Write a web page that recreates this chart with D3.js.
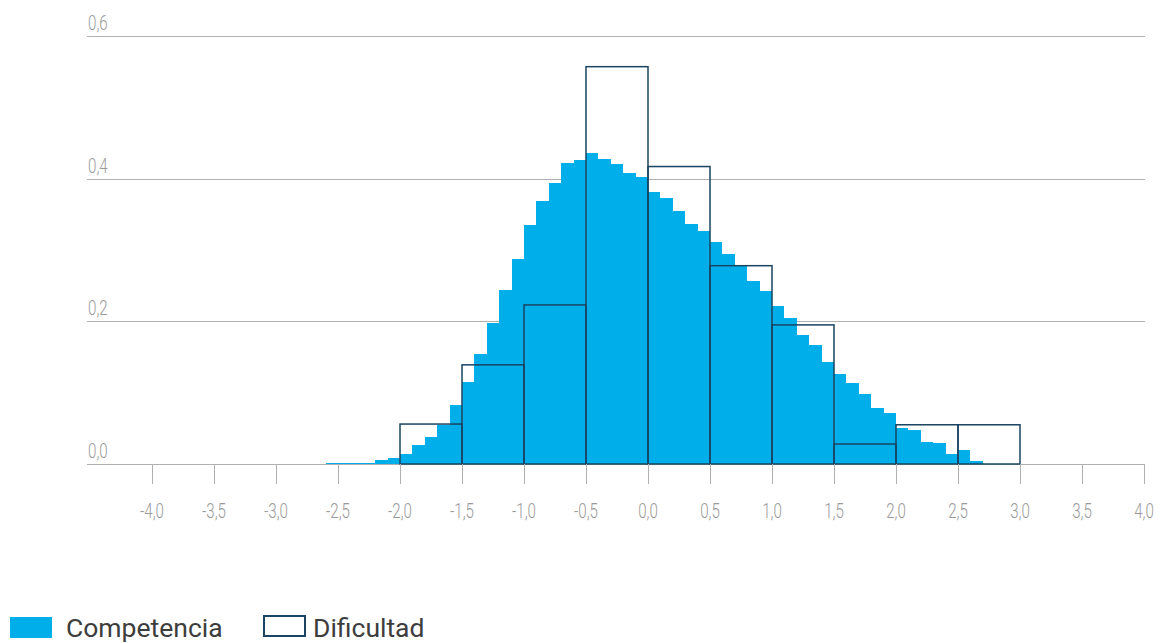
<!DOCTYPE html>
<html>
  <head>
    <meta charset="utf-8">
    <style>
      body {
        margin: 0;
        background: #fff;
      }
      .tick-label {
        font-family: Roboto, "Noto Sans", sans-serif;
        font-weight: 300;
        fill: #9a9a9a;
        font-size: 21px;
      }
      .legend text {
        font-family: Roboto, "Noto Sans", sans-serif;
        font-size: 26.5px;
        fill: #3d3d3d;
      }
    </style>
  </head>
  <body>
    <script src="https://d3js.org/d3.v7.min.js"></script>
    <script>
      // competencia histogram, bins of 0.1 starting at -2.6
      var compStart = -2.6;
      var compValues = [
        0.001, 0.001, 0.0015, 0.002, 0.0056, 0.009,
        0.014, 0.026, 0.038, 0.055, 0.083,
        0.115, 0.154, 0.198, 0.244, 0.288,
        0.335, 0.369, 0.394, 0.422, 0.426,
        0.436, 0.428, 0.421, 0.408, 0.403,
        0.382, 0.373, 0.355, 0.337, 0.326,
        0.311, 0.295, 0.277, 0.257, 0.243,
        0.222, 0.204, 0.181, 0.167, 0.143,
        0.126, 0.114, 0.098, 0.078, 0.072,
        0.051, 0.048, 0.031, 0.030, 0.014,
        0.020, 0.004
      ];

      // dificultad histogram, bins of 0.5
      var difStarts = [-2.0, -1.5, -1.0, -0.5, 0.0, 0.5, 1.0, 1.5, 2.0, 2.5];
      var difValues = [0.056, 0.139, 0.223, 0.557, 0.417, 0.278, 0.195, 0.028, 0.055, 0.055];

      var xTicks = [-4.0, -3.5, -3.0, -2.5, -2.0, -1.5, -1.0, -0.5, 0.0, 0.5, 1.0, 1.5, 2.0, 2.5, 3.0, 3.5, 4.0];
      var yTicks = [0.0, 0.2, 0.4, 0.6];

      var legendItems = ["Competencia", "Dificultad"];

      var width = 1163, height = 643;
      var fillColor = "#00afe9",
          strokeColor = "#1a4462",
          gridColor = "#b0b0b0";

      var svg = d3.select("body").append("svg")
          .attr("width", width)
          .attr("height", height);

      var x = d3.scaleLinear().domain([-4, 4]).range([152, 1144]);
      var y = d3.scaleLinear().domain([0, 0.6]).range([464, 36]);
      // comma decimals, plain hyphen for minus
      var fmt = function(d) { return d.toFixed(1).replace(".", ","); };
      var squeeze = 0.72;

      // horizontal gridlines
      svg.append("g").selectAll("line")
          .data(yTicks)
        .enter().append("line")
          .attr("x1", 87)
          .attr("x2", 1145)
          .attr("y1", function(d) { return Math.round(y(d)) + 0.5; })
          .attr("y2", function(d) { return Math.round(y(d)) + 0.5; })
          .style("stroke", gridColor)
          .style("stroke-width", 1);

      svg.append("g").selectAll("text")
          .data(yTicks)
        .enter().append("text")
          .attr("class", "tick-label")
          .attr("transform", function(d) { return "translate(88," + (y(d) - 6) + ") scale(" + squeeze + ",1)"; })
          .text(fmt);

      // competencia bars
      var bw = 0.1;
      svg.append("g").selectAll("rect")
          .data(compValues)
        .enter().append("rect")
          .attr("x", function(d, i) { return x(compStart + i * bw); })
          .attr("width", function(d, i) { return x(compStart + (i + 1) * bw) - x(compStart + i * bw); })
          .attr("y", function(d) { return y(d); })
          .attr("height", function(d) { return y(0) - y(d); })
          .style("fill", fillColor)
          .style("shape-rendering", "crispEdges");

      // dificultad outlines
      svg.append("g").selectAll("rect")
          .data(difValues)
        .enter().append("rect")
          .attr("x", function(d, i) { return x(difStarts[i]); })
          .attr("width", function(d, i) { return x(difStarts[i] + 0.5) - x(difStarts[i]); })
          .attr("y", function(d) { return y(d); })
          .attr("height", function(d) { return y(0) - y(d); })
          .style("fill", "none")
          .style("stroke", strokeColor)
          .style("stroke-width", 1.5);

      // x ticks
      var xg = svg.append("g");
      xg.selectAll("line")
          .data(xTicks)
        .enter().append("line")
          .attr("x1", function(d) { return Math.round(x(d)) + 0.5; })
          .attr("x2", function(d) { return Math.round(x(d)) + 0.5; })
          .attr("y1", y(0))
          .attr("y2", y(0) + 20)
          .style("stroke", gridColor);
      xg.selectAll("text")
          .data(xTicks)
        .enter().append("text")
          .attr("class", "tick-label")
          .attr("transform", function(d) { return "translate(" + x(d) + ",518) scale(" + squeeze + ",1)"; })
          .attr("text-anchor", "middle")
          .text(fmt);

      // legend
      var legend = svg.append("g").attr("class", "legend");
      legend.append("rect")
          .attr("x", 10).attr("y", 617)
          .attr("width", 42).attr("height", 21)
          .style("fill", fillColor);
      legend.append("text")
          .attr("x", 66).attr("y", 637)
          .text(legendItems[0]);
      legend.append("rect")
          .attr("x", 264).attr("y", 616)
          .attr("width", 41).attr("height", 20)
          .style("fill", "none")
          .style("stroke", strokeColor)
          .style("stroke-width", 2);
      legend.append("text")
          .attr("x", 313).attr("y", 637)
          .text(legendItems[1]);
    </script>
  </body>
</html>
